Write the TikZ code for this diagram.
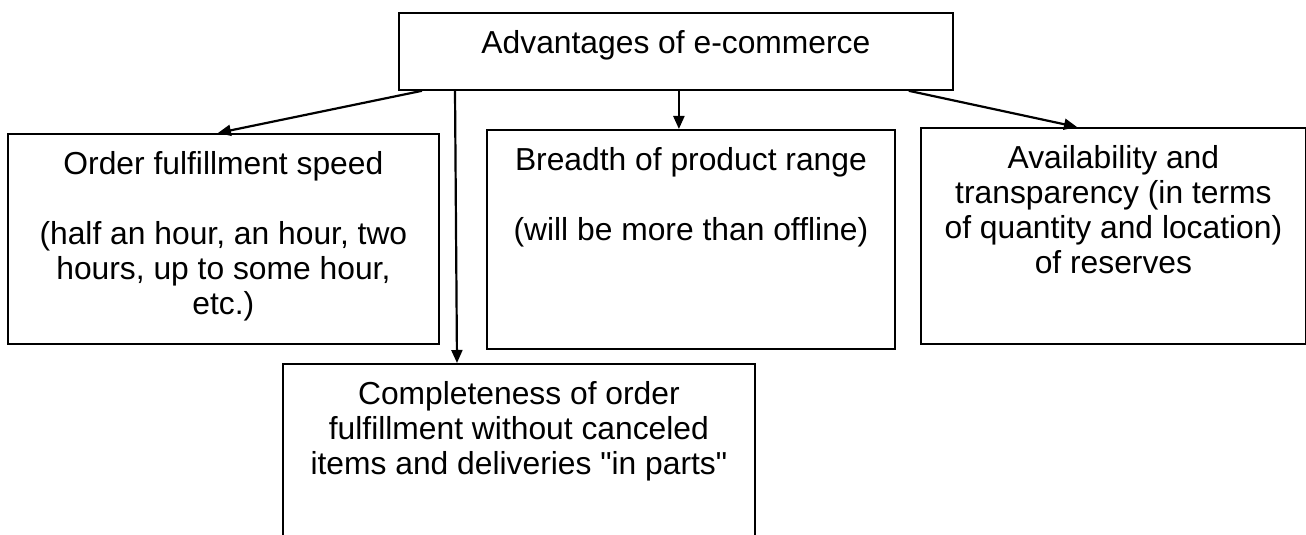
\documentclass[tikz,border=0pt]{standalone}
\usepackage{fontspec}
\setmainfont{Liberation Sans}[Ligatures=TeXOff]
\usetikzlibrary{arrows.meta}
\newcommand{\boxtext}[3]{\parbox[c][#2][t]{#1}{\vspace*{8pt}\centering\strut #3}}

\begin{document}
\begin{tikzpicture}[x=0.5pt, y=-0.5pt, >={Triangle[length=6.5pt,width=5.5pt]},
        adv/.style={draw, line width=0.9pt, inner sep=0pt, anchor=north west,
            font=\fontsize{15.9pt}{17.5pt}\selectfont},
        link/.style={->, line width=1.1pt}]
        \useasboundingbox (0,0) rectangle (1306,535);

        % 方框
        \node[adv] (top) at (398,12) {\boxtext{277pt}{38.5pt}{Advantages of e-commerce}};
        \node[adv] (lft) at (7,133) {\boxtext{215.5pt}{105pt}{Order fulfillment speed\\[\baselineskip]
            (half an hour, an hour, two\\hours, up to some hour,\\etc.)}};
        \node[adv] (mid) at (486,129) {\boxtext{204pt}{109.5pt}{Breadth of product range\\[\baselineskip]
            (will be more than offline)}};
        \node[adv] (rgt) at (920,127) {\boxtext{192.5pt}{108pt}{Availability and\\transparency (in terms\\
            of quantity and location)\\of reserves}};
        \node[adv] (bot) at (282,363) {\boxtext{236pt}{100pt}{Completeness of order\\
            fulfillment without canceled\\items and deliveries "in parts"}};

        % 箭头
        \draw[link] ([xshift=12pt]top.south west) -- ([xshift=-2.75pt]lft.north);
        \draw[link] ([xshift=28.5pt]top.south west) -- ([xshift=87.5pt]bot.north west);
        \draw[link] ([xshift=1.5pt]top.south) -- ([xshift=1.5pt]top.south |- mid.north);
        \draw[link] ([xshift=-22.5pt]top.south east) -- ([xshift=78.5pt]rgt.north west);
    \end{tikzpicture}
\end{document}
